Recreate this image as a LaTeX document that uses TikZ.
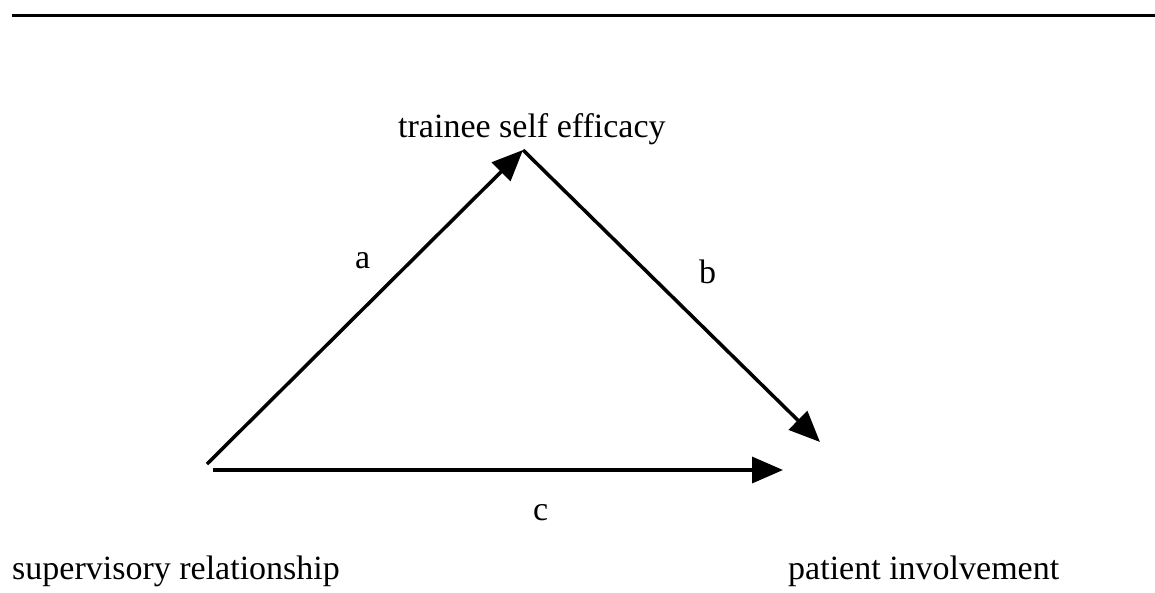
\documentclass[tikz,border=0pt]{standalone}
\usepackage{fontspec}
\setmainfont{Liberation Serif}
\usetikzlibrary{arrows.meta}
\begin{document}
\begin{tikzpicture}[x=1pt,y=-1pt,
  lbl/.style={inner sep=0pt,anchor=base west,font=\fontsize{34}{40}\selectfont},
  conn/.style={line width=3.5pt,-{Triangle[length=31pt,width=26pt]}},
  rule/.style={line width=3pt}]
\useasboundingbox (0,0) rectangle (1155,592);
% top rule
\coordinate (r1) at (12,15);
\coordinate (r2) at (1155,15);
\draw[rule] (r1) -- (r2);
% labels
\node[lbl] (tse) at (398,137) {trainee self efficacy};
\node[lbl] (sr) at (12,579) {supervisory relationship};
\node[lbl] (pi) at (788,579) {patient involvement};
\node[lbl] (la) at (355,268) {a};
\node[lbl] (lb) at (699,283) {b};
\node[lbl] (lc) at (533,520) {c};
% connector end points
\coordinate (astart) at (207,464);
\coordinate (apex) at (523,150);
\coordinate (bend) at (820,442);
\coordinate (cstart) at (213,470);
\coordinate (cend) at (783,470);
\draw[conn] (astart) -- (apex);
\draw[conn] (apex) -- (bend);
\draw[conn] (cstart) -- (cend);
\end{tikzpicture}
\end{document}
